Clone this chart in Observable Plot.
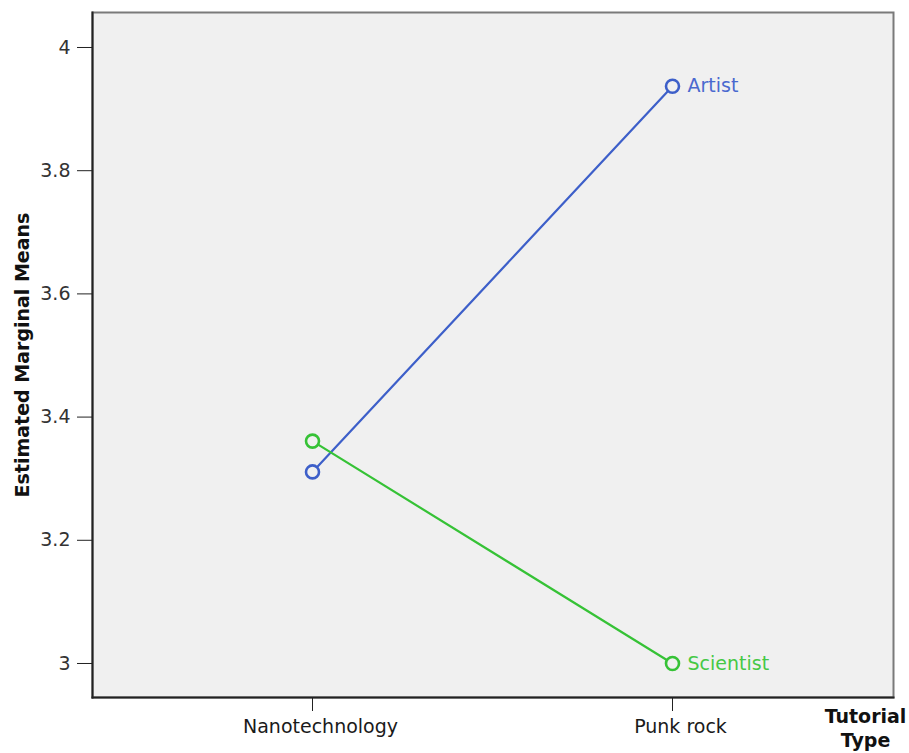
<!DOCTYPE html>
<html>
<head>
<meta charset="utf-8">
<script src="https://cdn.jsdelivr.net/npm/d3@7"></script>
<script src="https://cdn.jsdelivr.net/npm/@observablehq/plot@0.6"></script>
<style>
  html, body { margin: 0; padding: 0; background: #ffffff; }
  #chart svg { display: block; }
</style>
</head>
<body>
<div id="chart"></div>
<script>
const categories = ["Nanotechnology", "Punk rock"];
const seriesNames = ["Artist", "Scientist"];
const artistValues = [3.311, 3.937];
const scientistValues = [3.361, 3.0];
const yTicks = [3, 3.2, 3.4, 3.6, 3.8, 4];
const colors = ["#3d5fc9", "#36c236"];
const labelColors = ["#4a69cf", "#45c845"];
const yTitle = "Estimated Marginal Means";
const xTitle = "Tutorial\nType";

const rows = [];
[artistValues, scientistValues].forEach((vals, si) => {
  vals.forEach((v, ci) => rows.push({series: seriesNames[si], category: categories[ci], value: v}));
});
const endRows = rows.filter(d => d.category === categories[categories.length - 1]);

const font = "'DejaVu Sans', Verdana, sans-serif";

const chart = Plot.plot({
  width: 909,
  height: 753,
  marginLeft: 92,
  marginTop: 12,
  marginRight: 16,
  marginBottom: 56,
  style: {fontFamily: font, fontSize: "19px", color: "#222", background: "#ffffff"},
  x: {type: "point", domain: categories, range: [312, 672], padding: 0},
  y: {domain: [2.9448, 4.0568]},
  color: {domain: seriesNames, range: colors},
  marks: [
    Plot.frame({fill: "#f0f0f0", stroke: "#7a7a7a", strokeWidth: 2}),
    Plot.frame({anchor: "left", stroke: "#222", strokeWidth: 2}),
    Plot.frame({anchor: "bottom", stroke: "#222", strokeWidth: 2}),
    Plot.axisY({
      ticks: yTicks,
      tickFormat: d => d3.format("~g")(d),
      tickSize: 15,
      tickPadding: 7,
      tickWidth: 2,
      stroke: "#222",
      fill: "#333",
      fontSize: 19,
      label: null
    }),
    Plot.axisX({
      tickSize: 14,
      tickWidth: 2,
      stroke: "#222",
      tickFormat: () => "",
      label: null
    }),
    Plot.axisX({
      tickSize: 0,
      tickPadding: 22,
      fill: "#1a1a1a",
      fontSize: 19,
      dx: 8,
      label: null
    }),
    Plot.line(rows, {x: "category", y: "value", z: "series", stroke: "series", strokeWidth: 2.2}),
    Plot.dot(rows, {x: "category", y: "value", stroke: "series", r: 6.5, strokeWidth: 2.6, fill: "#f0f0f0"}),
    Plot.text(endRows, {
      x: "category", y: "value", text: "series",
      fill: d => labelColors[seriesNames.indexOf(d.series)],
      textAnchor: "start", dx: 15, fontSize: 19
    }),
    Plot.text([yTitle], {
      frameAnchor: "left", dx: -70, rotate: -90, text: d => d,
      textAnchor: "middle", lineAnchor: "middle",
      fontWeight: "bold", fontSize: 19, fill: "#111"
    }),
    Plot.text([xTitle], {
      frameAnchor: "bottom-right", dx: -28, dy: 9, lineAnchor: "top",
      text: d => d, textAnchor: "middle", lineHeight: 1.25,
      fontWeight: "bold", fontSize: 19, fill: "#111"
    })
  ]
});

document.getElementById("chart").appendChild(chart);
</script>
</body>
</html>
